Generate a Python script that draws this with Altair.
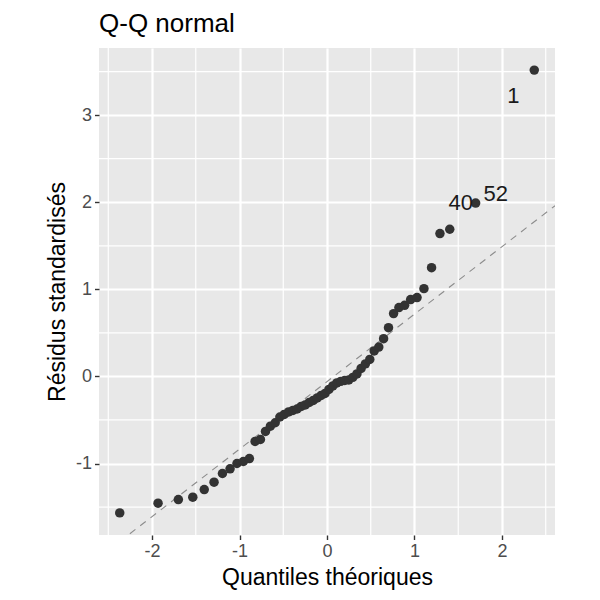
import altair as alt
import pandas as pd

# Q-Q plot values
theo_quantiles = [
    -2.369, -1.931, -1.699, -1.534, -1.403, -1.291, -1.195, -1.108, -1.029, -0.956,
    -0.887, -0.822, -0.761, -0.703, -0.647, -0.592, -0.539, -0.489, -0.439, -0.390,
    -0.342, -0.295, -0.249, -0.203, -0.157, -0.112, -0.067, -0.022, 0.022, 0.067,
    0.112, 0.157, 0.203, 0.249, 0.295, 0.342, 0.390, 0.439, 0.489, 0.539,
    0.592, 0.647, 0.703, 0.761, 0.822, 0.887, 0.956, 1.029, 1.108, 1.195,
    1.291, 1.403, 1.699, 2.369,
]
std_residuals = [
    -1.567, -1.456, -1.414, -1.387, -1.299, -1.215, -1.115, -1.061, -1.000, -0.977,
    -0.943, -0.747, -0.724, -0.632, -0.571, -0.532, -0.466, -0.437, -0.408, -0.391,
    -0.374, -0.345, -0.328, -0.299, -0.276, -0.247, -0.218, -0.195, -0.149, -0.109,
    -0.075, -0.057, -0.046, -0.040, -0.011, 0.029, 0.092, 0.144, 0.195, 0.293,
    0.337, 0.433, 0.560, 0.721, 0.790, 0.816, 0.882, 0.905, 1.008, 1.249,
    1.640, 1.690, 1.990, 3.517,
]
outlier_labels = ["1", "40", "52"]
outlier_x = [2.369, 1.699, 1.699]
outlier_y = [3.517, 1.990, 1.990]

ref_intercept = -0.06
ref_slope = 0.775

x_domain = [-2.606, 2.606]
y_domain = [-1.821, 3.771]
x_major = [-2, -1, 0, 1, 2]
y_major = [-1, 0, 1, 2, 3]
x_minor = [-2.5, -1.5, -0.5, 0.5, 1.5, 2.5]
y_minor = [-1.5, -0.5, 0.5, 1.5, 2.5, 3.5]

FONT = "Liberation Sans"
POINT = "#333333"
# label offsets in pixels (dx, dy)
LABEL_OFFSETS = {"1": (-21, 26), "40": (-15, 0), "52": (20, -9)}

xs = alt.Scale(domain=x_domain, nice=False, zero=False)
ys = alt.Scale(domain=y_domain, nice=False, zero=False)
x_axis = alt.Axis(values=x_major, title="Quantiles théoriques", labelExpr="'' + datum.value")
y_axis = alt.Axis(values=y_major, title="Résidus standardisés", labelExpr="'' + datum.value")


def X():
    return alt.X("x:Q", scale=xs, axis=x_axis)


def Y():
    return alt.Y("y:Q", scale=ys, axis=y_axis)


points_df = pd.DataFrame({"x": theo_quantiles, "y": std_residuals})
line_df = pd.DataFrame({"x": x_domain})
line_df["y"] = ref_intercept + ref_slope * line_df["x"]

minor_v = (
    alt.Chart(pd.DataFrame({"x": x_minor}))
    .mark_rule(color="white", strokeWidth=1.2)
    .encode(x=X())
)
minor_h = (
    alt.Chart(pd.DataFrame({"y": y_minor}))
    .mark_rule(color="white", strokeWidth=1.2)
    .encode(y=Y())
)

ref_line = (
    alt.Chart(line_df)
    .mark_line(color="#8C8C8C", strokeWidth=1.1, strokeDash=[7, 6], clip=True)
    .encode(x=X(), y=Y())
)

points = alt.Chart(points_df).mark_circle(size=90, color=POINT, opacity=1).encode(x=X(), y=Y())

label_layers = []
for lab, lx, ly in zip(outlier_labels, outlier_x, outlier_y):
    dx, dy = LABEL_OFFSETS[lab]
    label_layers.append(
        alt.Chart(pd.DataFrame({"x": [lx], "y": [ly], "t": [lab]}))
        .mark_text(font=FONT, fontSize=22, color="#1A1A1A", dx=dx, dy=dy, align="center", baseline="middle")
        .encode(x=X(), y=Y(), text="t:N")
    )

chart = (
    alt.layer(minor_v, minor_h, ref_line, points, *label_layers)
    .properties(
        width=456,
        height=487,
        autosize=alt.AutoSizeParams(type="none"),
        padding={"left": 91, "top": 40, "right": 37, "bottom": 57},
        title=alt.TitleParams(
            "Q-Q normal", anchor="start", frame="group", font=FONT, fontSize=26,
            fontWeight="normal", color="#000000", offset=10,
        ),
    )
    .configure(background="white")
    .configure_view(fill="#E8E8E8", stroke=None)
    .configure_axis(
        domain=False,
        grid=True,
        gridColor="white",
        gridWidth=2.2,
        tickColor="#333333",
        tickSize=4.5,
        tickWidth=1.4,
        labelFont=FONT,
        labelFontSize=18,
        labelColor="#4D4D4D",
        labelPadding=3,
        titleFont=FONT,
        titleFontSize=23,
        titleFontWeight="normal",
        titleColor="#000000",
        titlePadding=6,
    )
)

chart.save("out.html", embed_options={"renderer": "svg", "actions": False})
